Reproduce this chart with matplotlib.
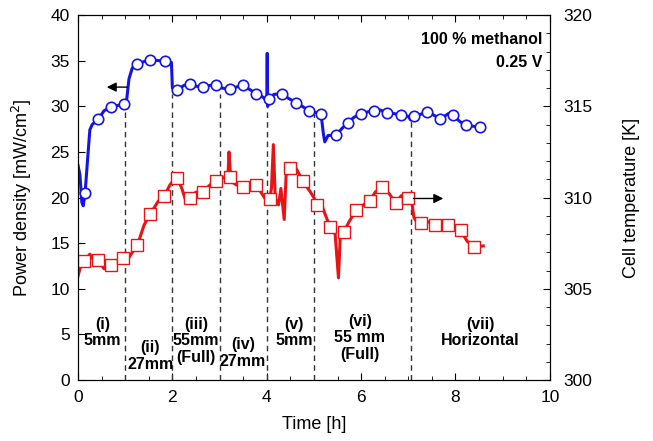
import numpy as np
import matplotlib
matplotlib.use("Agg")
import matplotlib.pyplot as plt
from matplotlib.ticker import MultipleLocator

plt.rcParams['font.family'] = ['Liberation Sans', 'DejaVu Sans']

# power density line (left axis)
pd_t = [0, 0.04, 0.08, 0.11, 0.15, 0.2, 0.25, 0.3, 0.43, 0.55, 0.70, 0.85, 0.98, 1.02,
        1.08, 1.15, 1.25, 1.4, 1.53, 1.7, 1.84, 1.92, 1.98, 2.0, 2.1, 2.25, 2.38, 2.5,
        2.65, 2.8, 2.93, 3.05, 3.22, 3.35, 3.5, 3.65, 3.78, 3.92, 4.0, 4.01, 4.02, 4.05,
        4.15, 4.33, 4.45, 4.62, 4.75, 4.9, 5.05, 5.15, 5.2, 5.23, 5.3, 5.47, 5.6, 5.72,
        5.85, 6.0, 6.15, 6.28, 6.4, 6.55, 6.7, 6.84, 7.0, 7.05, 7.12, 7.25, 7.4, 7.55,
        7.68, 7.85, 7.95, 8.1, 8.23, 8.4, 8.52]
pd_val = [23.5, 22.5, 19.5, 19.1, 20.5, 24.0, 27.4, 28.0, 28.6, 29.5, 29.95, 30.1, 30.3, 30.2,
          33.0, 34.2, 34.6, 34.9, 35.1, 35.0, 35.0, 34.6, 34.8, 32.0, 31.8, 32.3, 32.4, 32.2,
          32.1, 32.3, 32.3, 32.0, 31.85, 32.1, 32.3, 31.8, 31.4, 31.0, 30.6, 35.8, 30.0, 30.8,
          31.3, 31.4, 30.9, 30.4, 30.0, 29.5, 29.3, 29.2, 27.0, 26.1, 26.8, 26.85, 27.6, 28.2,
          28.8, 29.15, 29.4, 29.5, 29.6, 29.3, 29.2, 29.0, 28.9, 28.5, 28.9, 29.1, 29.4, 29.0,
          28.6, 29.2, 29.0, 28.3, 27.9, 27.8, 27.7]
pd_mk_t = [0.15, 0.43, 0.70, 0.98, 1.25, 1.53, 1.84, 2.1, 2.38, 2.65, 2.93, 3.22, 3.5, 3.78,
           4.05, 4.33, 4.62, 4.9, 5.15, 5.47, 5.72, 6.0, 6.28, 6.55, 6.84, 7.12, 7.40, 7.68,
           7.95, 8.23, 8.52]
pd_mk_val = [20.5, 28.6, 29.95, 30.3, 34.6, 35.1, 35.0, 31.8, 32.4, 32.1, 32.3, 31.85, 32.3,
             31.4, 30.8, 31.4, 30.4, 29.5, 29.2, 26.85, 28.2, 29.15, 29.5, 29.3, 29.0, 28.9,
             29.4, 28.6, 29.0, 27.9, 27.7]

# cell temperature line (right axis)
T_t = [0, 0.05, 0.13, 0.25, 0.35, 0.43, 0.55, 0.70, 0.85, 0.96, 1.05, 1.15, 1.26, 1.4, 1.53,
       1.7, 1.83, 1.95, 2.05, 2.1, 2.2, 2.3, 2.38, 2.5, 2.65, 2.8, 2.93, 3.1, 3.18, 3.2, 3.24,
       3.35, 3.5, 3.65, 3.78, 3.9, 4.0, 4.06, 4.1, 4.14, 4.18, 4.25, 4.3, 4.37, 4.42, 4.49,
       4.6, 4.77, 4.9, 5.0, 5.06, 5.15, 5.25, 5.34, 5.45, 5.52, 5.56, 5.63, 5.75, 5.89, 6.05,
       6.18, 6.3, 6.45, 6.6, 6.73, 6.85, 7.0, 7.05, 7.12, 7.2, 7.28, 7.4, 7.56, 7.7, 7.84,
       8.0, 8.11, 8.25, 8.4, 8.59]
T_val = [305.7, 306.2, 306.5, 306.9, 306.5, 306.6, 306.1, 306.3, 306.5, 306.7, 306.6, 307.0,
         307.4, 308.5, 309.1, 309.8, 310.1, 310.7, 311.0, 311.1, 310.5, 309.7, 310.0, 310.3,
         310.3, 310.7, 310.9, 311.1, 311.3, 312.5, 310.9, 310.7, 310.6, 310.5, 310.7, 310.2,
         309.8, 309.9, 310.5, 312.9, 310.0, 309.6, 310.5, 308.8, 311.8, 311.6, 311.7, 310.9,
         310.4, 310.0, 309.6, 309.7, 309.0, 308.4, 308.0, 305.6, 308.0, 308.1, 308.7, 309.3,
         309.6, 309.8, 310.3, 310.6, 310.2, 309.7, 310.1, 310.0, 310.2, 308.9, 308.6, 308.6,
         308.7, 308.5, 308.6, 308.5, 308.4, 308.2, 307.6, 307.3, 307.35]
T_mk_t = [0.13, 0.43, 0.70, 0.96, 1.26, 1.53, 1.83, 2.1, 2.38, 2.65, 2.93, 3.22, 3.5, 3.78,
          4.06, 4.49, 4.77, 5.06, 5.34, 5.63, 5.89, 6.18, 6.45, 6.73, 7.0, 7.28, 7.56, 7.84,
          8.11, 8.4]
T_mk_val = [306.5, 306.6, 306.3, 306.7, 307.4, 309.1, 310.1, 311.05, 310.0, 310.3, 310.9,
            311.1, 310.6, 310.7, 309.9, 311.6, 310.9, 309.6, 308.4, 308.1, 309.3, 309.8,
            310.6, 309.7, 310.0, 308.6, 308.5, 308.5, 308.2, 307.3]

# section dividers and labels
div_t = [1.0, 2.0, 3.0, 4.0, 5.0, 7.05]
div_top = [30.0, 31.4, 31.4, 30.1, 29.2, 28.5]
sec_labels = ['(i)\n5mm', '(ii)\n27mm', '(iii)\n55mm\n(Full)', '(iv)\n27mm', '(v)\n5mm',
              '(vi)\n55 mm\n(Full)', '(vii)\nHorizontal']
sec_x = [0.52, 1.53, 2.5, 3.49, 4.58, 5.97, 8.52]
sec_y = [6.95, 4.35, 6.95, 4.7, 6.95, 7.3, 6.95]

blue = '#1414e6'
red = '#e61414'

fig = plt.figure(figsize=(6.53, 4.41), dpi=100)
ax = fig.add_axes([0.1195, 0.138, 0.7225, 0.828])
ax2 = ax.twinx()

ax.vlines(div_t, 0, div_top, colors='#333333', linestyles=(0, (4, 3)), lw=1.0)

ax.plot(pd_t, pd_val, color=blue, lw=2.2, zorder=3)
ax.plot(pd_mk_t, pd_mk_val, ls='none', marker='o', ms=7.5, mfc='white', mec=blue, mew=1.2, zorder=4)
ax2.plot(T_t, T_val, color=red, lw=2.2)
ax2.plot(T_mk_t, T_mk_val, ls='none', marker='s', ms=8.5, mfc='white', mec=red, mew=1.0)

for s, x, y in zip(sec_labels, sec_x, sec_y):
    ax.text(x, y, s, ha='center', va='top', fontsize=11.5, fontweight='bold', linespacing=1.15)

ax.annotate('', xy=(0.55, 32.1), xytext=(1.1, 32.1),
            arrowprops=dict(arrowstyle='-|>', color='black', lw=1.0, mutation_scale=14))
ax2.annotate('', xy=(7.8, 309.95), xytext=(7.05, 309.95),
             arrowprops=dict(arrowstyle='-|>', color='black', lw=1.0, mutation_scale=14))

ax.text(9.85, 37.3, '100 % methanol', ha='right', va='center', fontsize=11.5, fontweight='bold')
ax.text(9.85, 34.8, '0.25 V', ha='right', va='center', fontsize=11.5, fontweight='bold')

ax.set_xlim(0, 10)
ax.set_ylim(0, 40)
ax2.set_ylim(300, 320)
ax.xaxis.set_major_locator(MultipleLocator(2))
ax.xaxis.set_minor_locator(MultipleLocator(0.5))
ax.yaxis.set_major_locator(MultipleLocator(5))
ax2.yaxis.set_major_locator(MultipleLocator(5))
ax2.yaxis.set_minor_locator(MultipleLocator(1))
ax.tick_params(axis='x', which='both', direction='in', top=True, labelsize=12.5, pad=7)
ax.tick_params(axis='y', which='both', direction='in', labelsize=12.5, pad=6)
ax2.tick_params(axis='y', which='both', direction='in', labelsize=12.5, pad=10)
ax.tick_params(which='major', length=5)
ax.tick_params(which='minor', length=3)
ax2.tick_params(which='major', length=5)
ax2.tick_params(which='minor', length=3)

ax.set_xlabel('Time [h]', fontsize=13, labelpad=8)
ax.set_ylabel('Power density [mW/cm$^2$]', fontsize=13, labelpad=12)
ax2.set_ylabel('Cell temperature [K]', fontsize=13, labelpad=22)

fig.savefig('out.png', dpi=100)
